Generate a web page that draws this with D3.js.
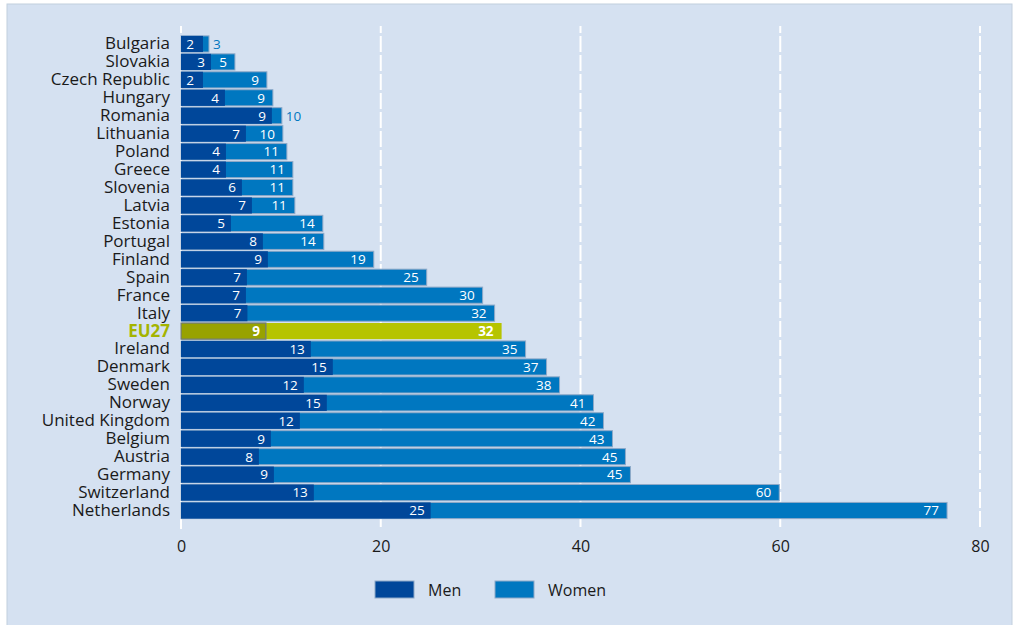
<!DOCTYPE html>
<html>
<head>
<meta charset="utf-8">
<script src="https://cdn.jsdelivr.net/npm/d3@7"></script>
<style>
  html, body { margin: 0; padding: 0; background: #ffffff; }
  svg { display: block; }
  text { font-family: "Open Sans", "Noto Sans", sans-serif; }
</style>
</head>
<body>
<svg id="chart" width="1014" height="625"></svg>
<script>
const countries = ["Bulgaria","Slovakia","Czech Republic","Hungary","Romania","Lithuania","Poland","Greece","Slovenia","Latvia","Estonia","Portugal","Finland","Spain","France","Italy","EU27","Ireland","Denmark","Sweden","Norway","United Kingdom","Belgium","Austria","Germany","Switzerland","Netherlands"];
// bar lengths (as drawn) and printed labels
const menValues   = [2.2, 3.0, 2.2, 4.4, 9.1, 6.5, 4.5, 4.5, 6.1, 7.1, 5.0, 8.2, 8.7, 6.6, 6.5, 6.65, 8.5, 13.0, 15.2, 12.3, 14.6, 11.9, 9.0, 7.8, 9.3, 13.3, 25.0];
const womenValues = [2.8, 5.4, 8.6, 9.2, 10.1, 10.2, 10.6, 11.2, 11.2, 11.4, 14.2, 14.3, 19.3, 24.6, 30.2, 31.4, 32.1, 34.5, 36.6, 37.9, 41.3, 42.3, 43.2, 44.5, 45.0, 59.9, 76.7];
const menLabels   = [2, 3, 2, 4, 9, 7, 4, 4, 6, 7, 5, 8, 9, 7, 7, 7, 9, 13, 15, 12, 15, 12, 9, 8, 9, 13, 25];
const womenLabels = [3, 5, 9, 9, 10, 10, 11, 11, 11, 11, 14, 14, 19, 25, 30, 32, 32, 35, 37, 38, 41, 42, 43, 45, 45, 60, 77];
const xTicks = [0, 20, 40, 60, 80];
const seriesNames = ["Men", "Women"];

const data = countries.map((c, i) => ({
  country: c, men: menValues[i], women: womenValues[i],
  menLabel: menLabels[i], womenLabel: womenLabels[i], eu: c === "EU27"
}));

const svg = d3.select("#chart");
const C = {
  panel: "#d5e1f1", men: "#00479a", women: "#0077c0",
  euMen: "#98a200", euWomen: "#b6c400", euText: "#a4b400",
  border: "#8ea9c8"
};

// background panel
svg.append("rect").attr("x", 7).attr("y", 4).attr("width", 1005).attr("height", 625)
  .attr("fill", C.panel).attr("stroke", "#c2cfdd").attr("stroke-width", 1);

const x = d3.scaleLinear().domain([0, 80]).range([181, 980]);
const y = d3.scaleBand().domain(countries).range([35, 519.5]).paddingInner(0.1).paddingOuter(0.05);

// gridlines
svg.append("g").selectAll("line").data(xTicks).join("line")
  .attr("x1", d => x(d)).attr("x2", d => x(d))
  .attr("y1", 26).attr("y2", 529)
  .attr("stroke", "#ffffff").attr("stroke-width", 2)
  .attr("stroke-dasharray", d => d === 0 ? "7,3,500" : "16,3")
  .attr("stroke-dashoffset", d => d === 0 ? 0 : 9);

// women bars (behind)
const bars = svg.append("g");
bars.selectAll("rect.w").data(data).join("rect").attr("class", "w")
  .attr("x", x(0)).attr("y", d => y(d.country))
  .attr("width", d => x(d.women) - x(0)).attr("height", y.bandwidth())
  .attr("fill", d => d.eu ? C.euWomen : C.women)
  .attr("stroke", d => d.eu ? "none" : C.border).attr("stroke-width", 1);
// men bars
bars.selectAll("rect.m").data(data).join("rect").attr("class", "m")
  .attr("x", x(0)).attr("y", d => y(d.country))
  .attr("width", d => x(d.men) - x(0)).attr("height", y.bandwidth())
  .attr("fill", d => d.eu ? C.euMen : C.men)
  .attr("stroke", d => d.eu ? "#6f7a80" : "none").attr("stroke-width", 1.2);

// value labels
const lab = svg.append("g").attr("font-size", 13.5);
lab.selectAll("text.m").data(data).join("text").attr("class", "m")
  .attr("x", d => x(d.men) - (d.men < 2.5 ? 9 : 6))
  .attr("y", d => y(d.country) + y.bandwidth() / 2)
  .attr("dy", "0.36em").attr("text-anchor", "end")
  .attr("fill", "#ffffff").attr("font-weight", d => d.eu ? "bold" : "normal")
  .text(d => d.menLabel);
lab.selectAll("text.w").data(data).join("text").attr("class", "w")
  .attr("x", d => (x(d.women) - x(d.men) < 18) ? x(d.women) + 4 : x(d.women) - 8)
  .attr("y", d => y(d.country) + y.bandwidth() / 2)
  .attr("dy", "0.36em")
  .attr("text-anchor", d => (x(d.women) - x(d.men) < 18) ? "start" : "end")
  .attr("fill", d => (x(d.women) - x(d.men) < 18) ? C.women : "#ffffff")
  .attr("font-weight", d => d.eu ? "bold" : "normal")
  .text(d => d.womenLabel);

// country axis labels
const yAxis = svg.append("g").attr("transform", `translate(${x(0)},0)`)
  .call(d3.axisLeft(y).tickSize(0).tickPadding(11));
yAxis.select(".domain").remove();
yAxis.selectAll("text").attr("font-size", 17)
  .attr("font-family", "'Open Sans', sans-serif")
  .attr("fill", d => d === "EU27" ? C.euText : "#1a1a1a")
  .attr("font-weight", d => d === "EU27" ? "bold" : "normal");

// x axis
const xAxis = svg.append("g").attr("transform", "translate(0,537)")
  .call(d3.axisBottom(x).tickValues(xTicks).tickSize(0).tickPadding(4));
xAxis.select(".domain").remove();
xAxis.selectAll("text").attr("font-size", 16).attr("fill", "#1a1a1a")
  .attr("font-family", "'Open Sans', sans-serif");

// legend
const legend = svg.append("g");
const legX = [375, 495];
seriesNames.forEach((s, i) => {
  legend.append("rect").attr("x", legX[i]).attr("y", 581).attr("width", 39).attr("height", 17)
    .attr("fill", i === 0 ? C.men : C.women).attr("stroke", C.border).attr("stroke-width", 1);
  legend.append("text").attr("x", legX[i] + 53).attr("y", 590).attr("dy", "0.36em")
    .attr("font-size", 16).attr("fill", "#1a1a1a").text(s);
});
</script>
</body>
</html>
